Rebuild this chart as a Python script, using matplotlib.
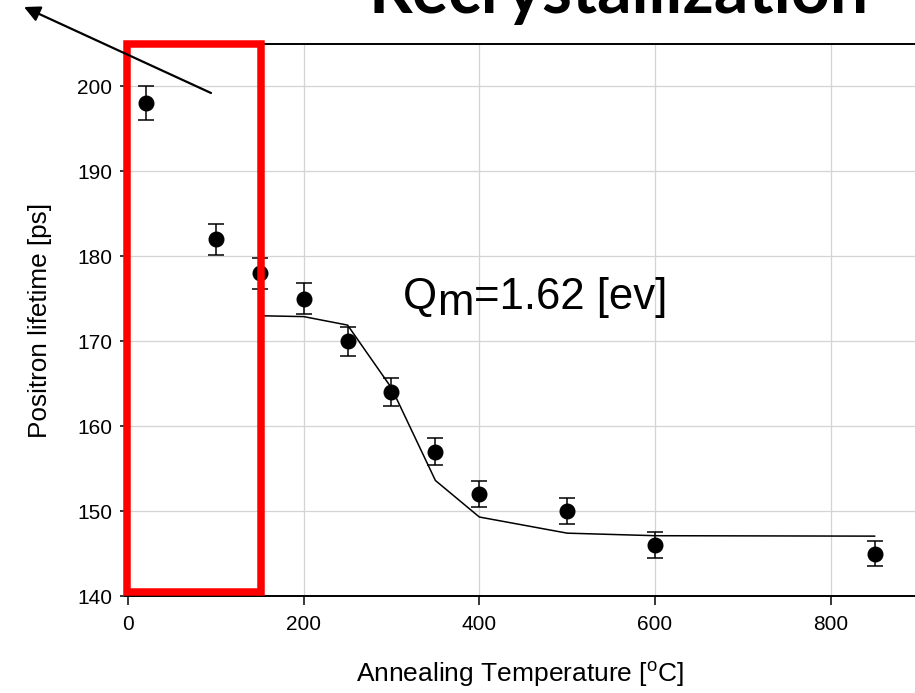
import matplotlib
matplotlib.use("Agg")
import matplotlib.pyplot as plt
from matplotlib.patches import Rectangle, FancyArrowPatch

plt.rcParams['font.family'] = ['Liberation Sans', 'DejaVu Sans']
plt.rcParams['mathtext.fontset'] = 'custom'
plt.rcParams['mathtext.rm'] = 'Liberation Sans'
plt.rcParams['mathtext.it'] = 'Liberation Sans:italic'

# measured data
temperature = [20, 100, 150, 200, 250, 300, 350, 400, 500, 600, 850]
lifetime = [198, 182, 178, 175, 170, 164, 157, 152, 150, 146, 145]
lifetime_err = [2.0, 1.85, 1.8, 1.8, 1.7, 1.65, 1.6, 1.5, 1.5, 1.5, 1.45]

# fitted curve
fit_temperature = [150, 200, 250, 300, 350, 400, 500, 600, 850]
fit_lifetime = [173.0, 172.9, 171.9, 164.5, 153.6, 149.3, 147.4, 147.1, 147.05]

x_ticks = [0, 200, 400, 600, 800]
y_ticks = [140, 150, 160, 170, 180, 190, 200]

W, H = 915, 693
fig = plt.figure(figsize=(W / 100, H / 100), dpi=100)
ax = fig.add_axes([125 / W, 1 - 596 / H, (W - 125) / W, (596 - 44) / H])

ax.plot(fit_temperature, fit_lifetime, color='black', lw=1.1, zorder=3)
ax.errorbar(temperature, lifetime, yerr=lifetime_err, fmt='o', color='black',
            markersize=10.5, elinewidth=1.1, capsize=6, capthick=1.1, zorder=4)

ax.set_xlim(-3.4, 896)
ax.set_ylim(140, 205)
ax.set_xticks(x_ticks)
ax.set_yticks(y_ticks)
ax.grid(True, color='#d4d4d4', lw=0.9)
ax.set_axisbelow(True)

ax.spines['right'].set_visible(False)
for s in ['top', 'bottom', 'left']:
    ax.spines[s].set_linewidth(1.4)
ax.tick_params(axis='x', direction='out', length=6.5, width=1.1, labelsize=15, pad=7)
ax.tick_params(axis='y', direction='out', length=3.4, width=1.1, labelsize=15, pad=6)

ax.set_xlabel('Annealing Temperature [$^{\\mathrm{o}}$C]', fontsize=19, labelpad=19)
ax.set_ylabel('Positron lifetime [ps]', fontsize=18.8, labelpad=18)

# Q_m annotation
qsize = 31.5
t1 = fig.text(403 / W, 1 - 309 / H, 'Q', fontsize=qsize, va='baseline', ha='left')
t2 = ax.annotate('m', xy=(1, 0), xycoords=t1, xytext=(0, -4.5), textcoords='offset points',
                 fontsize=qsize, va='bottom', ha='left')
t3 = ax.annotate('=1.62 [ev]', xy=(1, 0), xycoords=t2, xytext=(0, 4.5), textcoords='offset points',
                 fontsize=qsize, va='bottom', ha='left')

# red box
fig.add_artist(Rectangle((126.5 / W, 1 - 592 / H), 134 / W, 548.5 / H,
                         transform=fig.transFigure, fill=False, edgecolor='#ff0000',
                         lw=5.4, zorder=10))

# arrow
fig.add_artist(FancyArrowPatch(posA=(211 / W, 1 - 93 / H), posB=(24 / W, 1 - 7 / H),
                               transform=fig.transFigure, arrowstyle='-|>',
                               mutation_scale=24, lw=1.6, color='black', zorder=11,
                               shrinkA=0, shrinkB=0))

# title, clipped at top as in the original slide
fig.text(619 / W, 1 - 13 / H, 'Recrystallization', fontsize=49, fontweight='bold',
         family=['Lato', 'DejaVu Sans'], ha='center', va='baseline')

fig.savefig('out.png', dpi=100)
